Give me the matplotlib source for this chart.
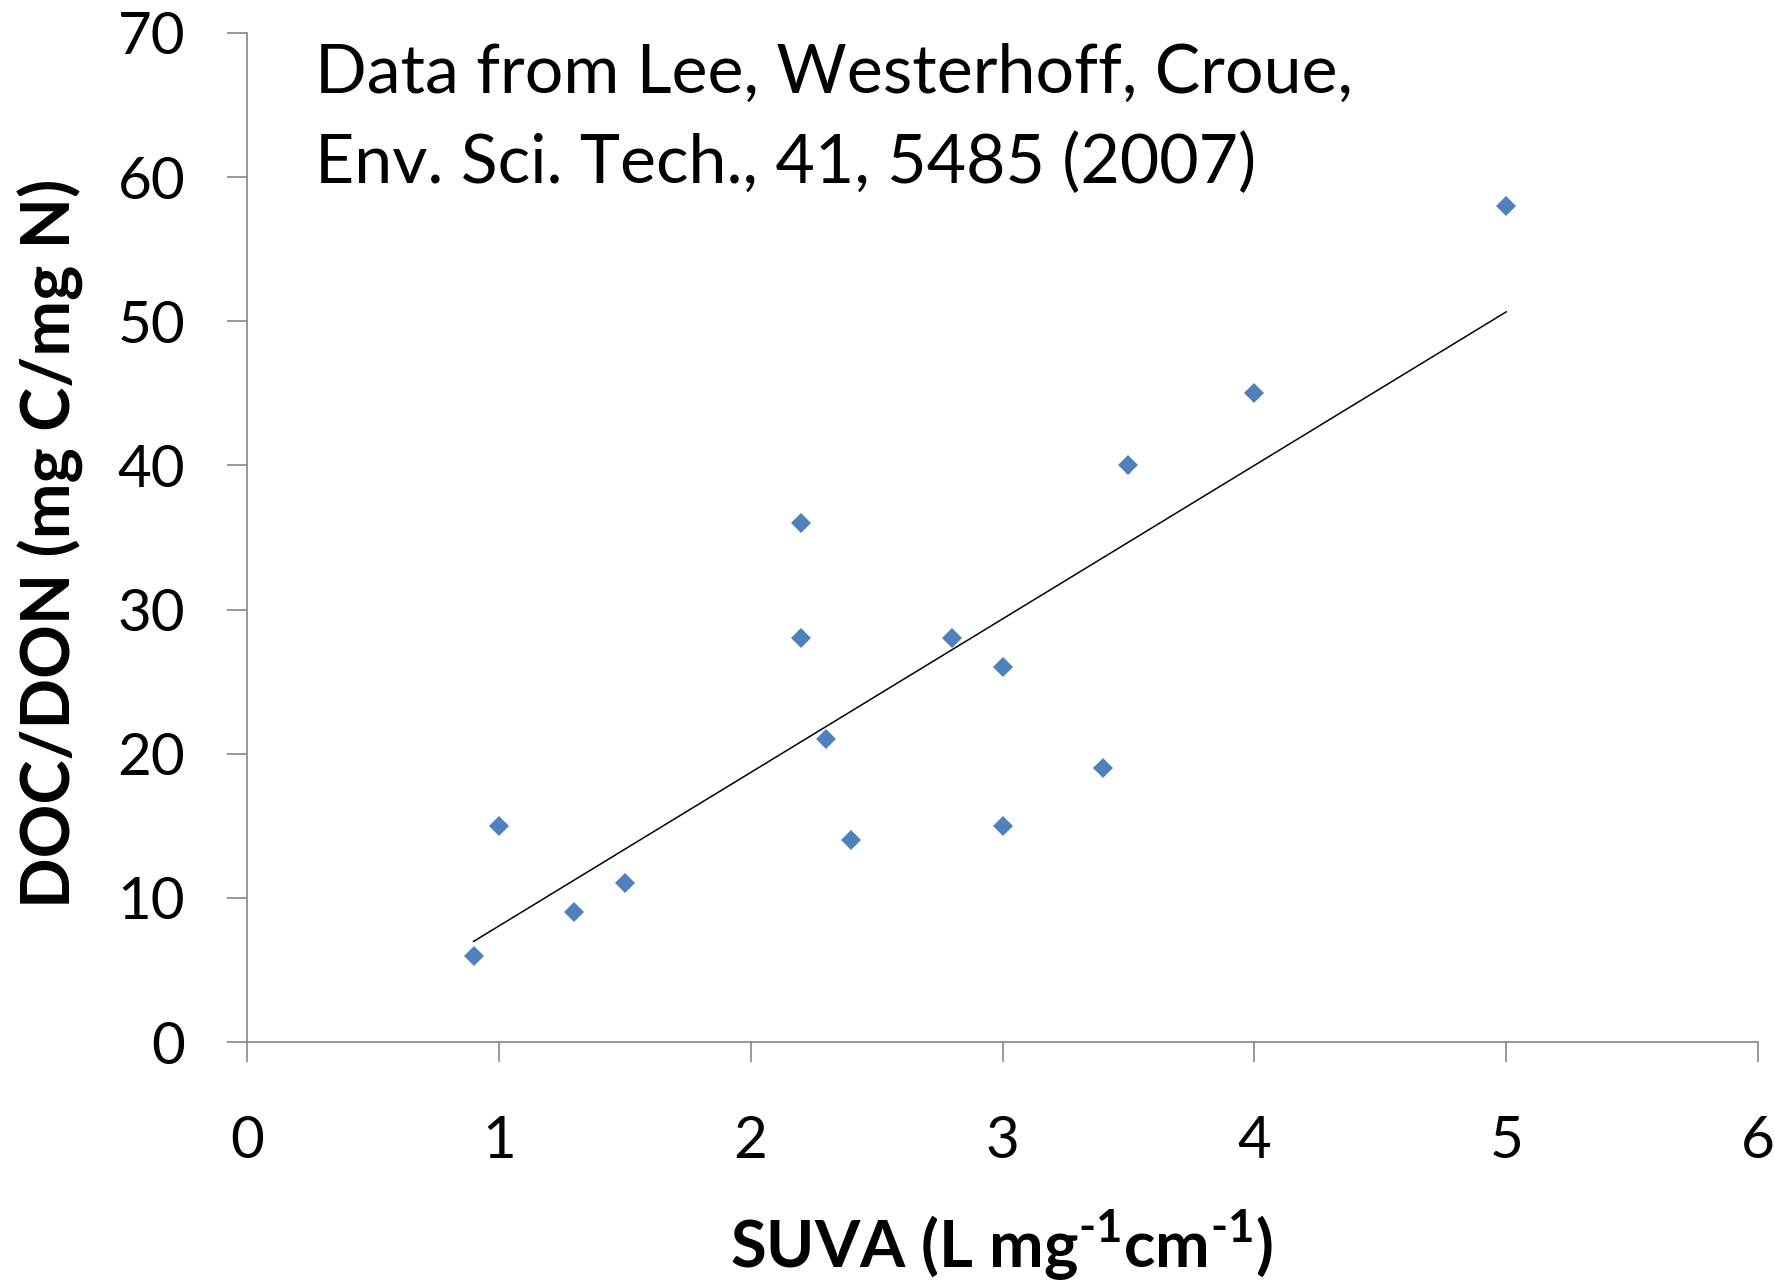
import numpy as np
import matplotlib
matplotlib.use("Agg")
import matplotlib.pyplot as plt

suva = [0.9, 1.0, 1.3, 1.5, 2.2, 2.2, 2.3, 2.4, 2.8, 3.0, 3.0, 3.4, 3.5, 4.0, 5.0]
doc_don = [6, 15, 9, 11, 36, 28, 21, 14, 28, 26, 15, 19, 40, 45, 58]
x_ticks = [0, 1, 2, 3, 4, 5, 6]
y_ticks = [0, 10, 20, 30, 40, 50, 60, 70]

plt.rcParams['font.family'] = ['Lato', 'DejaVu Sans']
plt.rcParams['mathtext.fontset'] = 'custom'
plt.rcParams['mathtext.rm'] = 'Lato:bold'
plt.rcParams['mathtext.bf'] = 'Lato:bold'

W, H = 1775, 1286
fig = plt.figure(figsize=(W / 100, H / 100), dpi=100)
ax = fig.add_axes([247 / W, 1 - 1042 / H, (1758 - 247) / W, (1042 - 33) / H])

ax.plot(suva, doc_don, linestyle='none', marker='D', markersize=10.2,
        markeredgewidth=0, color='#4F81BD', zorder=3)

coef = np.polyfit(suva, doc_don, 1)
xs = np.array([min(suva), max(suva)])
ax.plot(xs, np.polyval(coef, xs), color='black', linewidth=1.1, zorder=2)

ax.set_xlim(0, 6)
ax.set_ylim(0, 70)
ax.set_xticks(x_ticks)
ax.set_yticks(y_ticks)
for s in ['top', 'right']:
    ax.spines[s].set_visible(False)
for s in ['left', 'bottom']:
    ax.spines[s].set_color('#868686')
    ax.spines[s].set_linewidth(1.2)
ax.tick_params(axis='both', direction='out', length=14.4, width=1.2, color='#868686',
               labelsize=42, labelcolor='black')
ax.tick_params(axis='x', pad=38)
ax.tick_params(axis='y', pad=30)

fig.text(315 / W, 1 - 74 / H, "Data from Lee, Westerhoff, Croue,",
         fontsize=49, ha='left', va='center')
fig.text(315 / W, 1 - 164 / H, "Env. Sci. Tech., 41, 5485 (2007)",
         fontsize=49, ha='left', va='center')

fig.text(1002 / W, 1 - 1245 / H, r"SUVA (L mg$^{\text{-1}}$cm$^{\text{-1}}$)",
         fontsize=47, fontweight='bold', ha='center', va='center')
fig.text(51 / W, 1 - 543 / H, "DOC/DON (mg C/mg N)", rotation=90,
         fontsize=48, fontweight='bold', ha='center', va='center')

fig.savefig("out.png", dpi=100)
